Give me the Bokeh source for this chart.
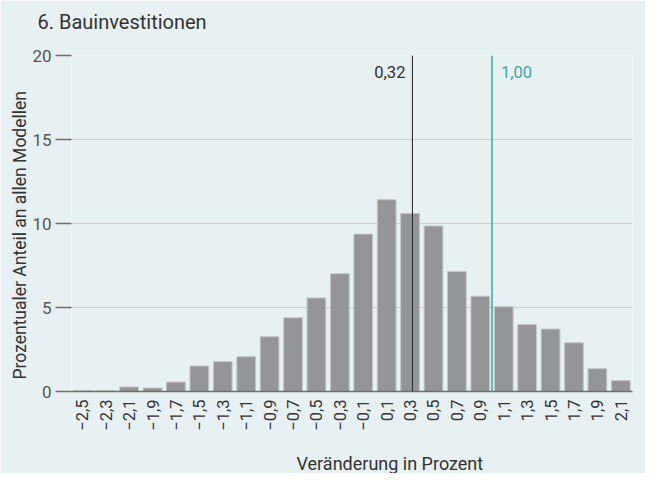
import math
from bokeh.plotting import figure
from bokeh.models import (Range1d, FixedTicker, CustomJSTickFormatter, Span, Label,
                          ColumnDataSource, Title)
from bokeh.embed import file_html
from bokeh.resources import INLINE

# ---- data ----
changes = [-2.5, -2.3, -2.1, -1.9, -1.7, -1.5, -1.3, -1.1, -0.9, -0.7, -0.5, -0.3,
           -0.1, 0.1, 0.3, 0.5, 0.7, 0.9, 1.1, 1.3, 1.5, 1.7, 1.9, 2.1]
shares = [0.05, 0.05, 0.27, 0.21, 0.56, 1.52, 1.78, 2.07, 3.26, 4.39, 5.57, 7.01,
          9.37, 11.42, 10.60, 9.85, 7.15, 5.67, 5.04, 3.99, 3.72, 2.90, 1.36, 0.65]
y_ticks = [0, 5, 10, 15, 20]
mean_value = 0.32
mean_label = "0,32"
ref_value = 1.00
ref_label = "1,00"
title_text = "6. Bauinvestitionen"
x_label = "Veränderung in Prozent"
y_label = "Prozentualer Anteil an allen Modellen"

BG = "#e7f0f2"
FONT = "Roboto"
TXT = "#333333"
TEAL = "#3aa99c"
AXC = "#6d6e70"

p = figure(width=645, height=473, output_backend="svg", toolbar_location=None,
           x_range=Range1d(-2.592, 2.2), y_range=Range1d(0, 20),
           min_border_left=71, min_border_right=13, min_border_top=55, min_border_bottom=81)
p.title = None
p.background_fill_color = BG
p.border_fill_color = BG
p.outline_line_color = None

src = ColumnDataSource(dict(x=changes, top=shares))
p.vbar(x="x", top="top", width=0.16, source=src, fill_color="#939598",
       line_color="#c4c6c8", line_width=1)

# spans
p.add_layout(Span(location=mean_value, dimension="height", line_color="#222222", line_width=1))
p.add_layout(Span(location=ref_value, dimension="height", line_color=TEAL, line_width=1.5))
p.add_layout(Label(x=mean_value, y=19.0, text=mean_label, text_align="right",
                   text_baseline="middle", x_offset=-7, text_font=FONT,
                   text_font_size="16.5px", text_color=TXT))
p.add_layout(Label(x=ref_value, y=19.0, text=ref_label, text_align="left",
                   text_baseline="middle", x_offset=9, text_font=FONT,
                   text_font_size="16.5px", text_color=TEAL))

# grid
p.xgrid.grid_line_color = None
p.ygrid.ticker = FixedTicker(ticks=y_ticks)
p.ygrid.grid_line_color = "#c9cdd0"
p.ygrid.grid_line_width = 1.2

# y axis
ya = p.yaxis[0]
ya.ticker = FixedTicker(ticks=y_ticks)
ya.axis_line_color = None
ya.major_tick_in = 0
ya.major_tick_out = 16
ya.major_tick_line_color = AXC
ya.major_tick_line_width = 1.5
ya.minor_tick_line_color = None
ya.major_label_standoff = 4
ya.major_label_text_font = FONT
ya.major_label_text_font_size = "17px"
ya.major_label_text_color = "#555555"

# x axis
xa = p.xaxis[0]
xa.ticker = FixedTicker(ticks=changes)
xa.formatter = CustomJSTickFormatter(
    code="return tick.toFixed(1).replace('.', ',').replace('-', '\\u2212');")
xa.axis_line_color = AXC
xa.axis_line_width = 1.5
xa.major_tick_in = 0
xa.major_tick_out = 0
xa.major_tick_line_color = None
xa.minor_tick_line_color = None
xa.major_label_orientation = math.pi / 2
xa.major_label_standoff = 8
xa.major_label_text_font = FONT
xa.major_label_text_font_size = "16.5px"
xa.major_label_text_color = TXT

# axis titles as side panels (offset from frame edges)
p.add_layout(Title(text=" ", text_font_size="10px", standoff=4), "below")
p.add_layout(Title(text=x_label, align="left", offset=225, text_font=FONT,
                   text_font_size="18px", text_font_style="normal", text_color=TXT,
                   standoff=0), "below")
p.add_layout(Title(text=y_label, align="left", offset=12, text_font=FONT,
                   text_font_size="17.5px", text_font_style="normal", text_color=TXT,
                   standoff=0), "left")

# chart title
p.add_layout(Title(text=" ", text_font_size="10px", standoff=4), "above")
p.add_layout(Title(text=title_text, align="left", offset=-34, text_font=FONT,
                   text_font_size="20px", text_font_style="normal", text_color=TXT,
                   standoff=10), "above")

open("out.html", "w", encoding="utf-8").write(file_html(p, INLINE))
